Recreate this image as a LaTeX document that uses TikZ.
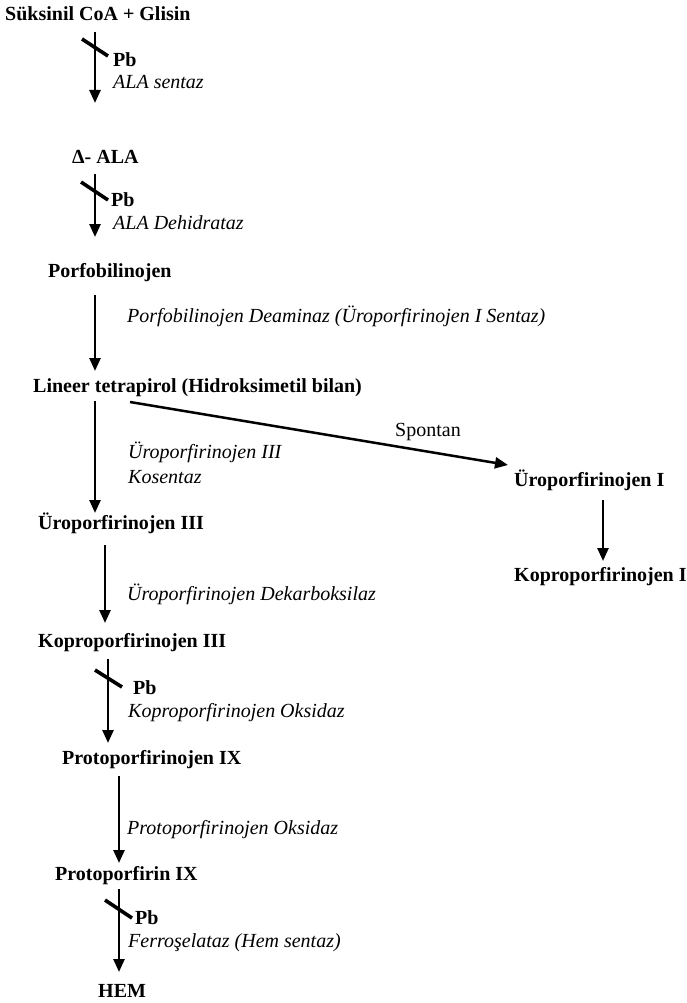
\documentclass[tikz,border=0pt]{standalone}
\usepackage{fontspec}
\setmainfont{Liberation Serif}
\usetikzlibrary{arrows.meta}
\newcommand\bfnt{\fontsize{20}{22}\selectfont\bfseries}
\newcommand\itfnt{\fontsize{20}{22}\selectfont\itshape}
\newcommand\rmfnt{\fontsize{20}{22}\selectfont}
\tikzset{
  bnode/.style={font=\bfnt, anchor=base west, inner sep=0pt},
  inode/.style={font=\itfnt, anchor=base west, inner sep=0pt},
  rnode/.style={font=\rmfnt, anchor=base west, inner sep=0pt},
  arr/.style={line width=2.5pt, -{Triangle[width=11pt,length=13pt]}},
  pbslash/.style={line width=3.6pt},
}
\begin{document}
\begin{tikzpicture}[x=1pt,y=-1pt]
\useasboundingbox (0,0) rectangle (686,1003);
% substances
\node[bnode] (suk) at (5,21) {Süksinil CoA + Glisin};
\node[bnode] (ala) at (72,164) {Δ- ALA};
\node[bnode] (pbg) at (48,277) {Porfobilinojen};
\node[bnode] (lin) at (33,392) {Lineer tetrapirol (Hidroksimetil bilan)};
\node[bnode] (uro1) at (514,486) {Üroporfirinojen I};
\node[bnode] (uro3) at (38,529) {Üroporfirinojen III};
\node[bnode] (kop1) at (514,581) {Koproporfirinojen I};
\node[bnode] (kop3) at (38,647) {Koproporfirinojen III};
\node[bnode] (ppg) at (62,764) {Protoporfirinojen IX};
\node[bnode] (pp) at (55,880) {Protoporfirin IX};
\node[bnode] (hem) at (98,997) {HEM};
% enzyme labels
\node[bnode] (pb1) at (113,67) {Pb};
\node[inode] (e1) at (113,89) {ALA sentaz};
\node[bnode] (pb2) at (111,207) {Pb};
\node[inode] (e2) at (113,229) {ALA Dehidrataz};
\node[inode] (e3) at (127,322) {Porfobilinojen Deaminaz (Üroporfirinojen I Sentaz)};
\node[inode] (e4a) at (128,458) {Üroporfirinojen III};
\node[inode] (e4b) at (128,483) {Kosentaz};
\node[rnode] (sp) at (395,436) {Spontan};
\node[inode] (e5) at (127,600) {Üroporfirinojen Dekarboksilaz};
\node[bnode] (pb3) at (133,694) {Pb};
\node[inode] (e6) at (128,717) {Koproporfirinojen Oksidaz};
\node[inode] (e7) at (127,834) {Protoporfirinojen Oksidaz};
\node[bnode] (pb4) at (135,924) {Pb};
\node[inode] (e8) at (128,947) {Ferroşelataz (Hem sentaz)};
% arrow end points
\coordinate (a1s) at (95,32);   \coordinate (a1e) at (95,103);
\coordinate (a2s) at (95,174);  \coordinate (a2e) at (95,237);
\coordinate (a3s) at (95,295);  \coordinate (a3e) at (95,371);
\coordinate (a4s) at (95,401);  \coordinate (a4e) at (95,513);
\coordinate (a5s) at (130,402); \coordinate (a5e) at (508,465);
\coordinate (a6s) at (603,500); \coordinate (a6e) at (603,561);
\coordinate (a7s) at (105,545); \coordinate (a7e) at (105,623);
\coordinate (a8s) at (108,659); \coordinate (a8e) at (108,743);
\coordinate (a9s) at (119,776); \coordinate (a9e) at (119,863);
\coordinate (a10s) at (119,889); \coordinate (a10e) at (119,972);
\draw[arr] (a1s) -- (a1e);
\draw[arr] (a2s) -- (a2e);
\draw[arr] (a3s) -- (a3e);
\draw[arr] (a4s) -- (a4e);
\draw[arr] (a5s) -- (a5e);
\draw[arr] (a6s) -- (a6e);
\draw[arr] (a7s) -- (a7e);
\draw[arr] (a8s) -- (a8e);
\draw[arr] (a9s) -- (a9e);
\draw[arr] (a10s) -- (a10e);
% lead inhibition slashes
\coordinate (s1a) at (82,39);  \coordinate (s1b) at (108,56);
\coordinate (s2a) at (81,182); \coordinate (s2b) at (108,200);
\coordinate (s3a) at (95,670); \coordinate (s3b) at (122,687);
\coordinate (s4a) at (105,900); \coordinate (s4b) at (132,918);
\draw[pbslash] (s1a) -- (s1b);
\draw[pbslash] (s2a) -- (s2b);
\draw[pbslash] (s3a) -- (s3b);
\draw[pbslash] (s4a) -- (s4b);
\end{tikzpicture}
\end{document}
